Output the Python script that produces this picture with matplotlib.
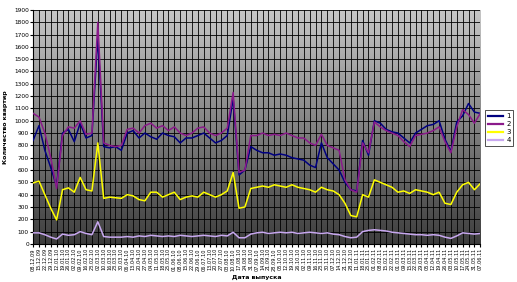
import numpy as np
import matplotlib
matplotlib.use("Agg")
import matplotlib.pyplot as plt

# ------------------------------------------
# Daten
# ------------------------------------------
daten = ["08.12.09", "15.12.09", "22.12.09", "29.12.09", "12.01.10", "19.01.10", "26.01.10",
         "02.02.10", "09.02.10", "16.02.10", "23.02.10", "02.03.10", "10.03.10", "16.03.10",
         "23.03.10", "30.03.10", "06.04.10", "13.04.10", "20.04.10", "27.04.10", "04.05.10",
         "11.05.10", "18.05.10", "25.05.10", "01.06.10", "08.06.10", "15.06.10", "22.06.10",
         "29.06.10", "06.07.10", "13.07.10", "20.07.10", "27.07.10", "03.08.10", "10.08.10",
         "17.08.10", "24.08.10", "31.08.10", "07.09.10", "14.09.10", "21.09.10", "28.09.10",
         "05.10.10", "12.10.10", "19.10.10", "26.10.10", "02.11.10", "09.11.10", "16.11.10",
         "23.11.10", "30.11.10", "07.12.10", "14.12.10", "21.12.10", "28.12.10", "11.01.11",
         "18.01.11", "25.01.11", "01.02.11", "08.02.11", "15.02.11", "22.02.11", "01.03.11",
         "09.03.11", "15.03.11", "22.03.11", "29.03.11", "05.04.11", "12.04.11", "19.04.11",
         "26.04.11", "03.05.11", "10.05.11", "17.05.11", "24.05.11", "31.05.11", "07.06.11"]

serie_1 = [840, 960, 760, 620, 470, 900, 930, 830, 980, 860, 880, 1680, 790, 780, 790, 760,
           900, 920, 860, 900, 870, 850, 900, 880, 870, 820, 860, 860, 880, 900, 860, 820,
           840, 880, 1180, 560, 600, 790, 760, 740, 740, 720, 730, 720, 700, 690, 680, 640,
           620, 820, 700, 650, 600, 500, 440, 430, 840, 720, 1000, 980, 930, 910, 900, 860,
           820, 900, 930, 960, 970, 1000, 850, 750, 990, 1040, 1140, 1070, 1060]

serie_2 = [1060, 1030, 900, 700, 450, 880, 950, 940, 1000, 890, 900, 1800, 820, 800, 790, 800,
           930, 940, 900, 960, 980, 940, 960, 920, 950, 900, 880, 900, 940, 950, 900, 880,
           900, 940, 1230, 580, 600, 880, 880, 900, 880, 890, 880, 900, 880, 860, 860, 820,
           800, 890, 800, 780, 760, 520, 440, 420, 820, 740, 990, 950, 920, 900, 880, 830,
           790, 880, 890, 900, 920, 950, 830, 740, 950, 1090, 1050, 980, 1060]

serie_3 = [495, 510, 400, 290, 195, 440, 455, 420, 540, 440, 430, 820, 370, 380, 375, 370,
           400, 390, 360, 350, 420, 420, 380, 400, 420, 360, 380, 390, 380, 420, 400, 380,
           400, 430, 580, 290, 300, 450, 460, 470, 460, 480, 470, 460, 480, 460, 450, 440,
           420, 460, 440, 430, 400, 330, 230, 220, 400, 380, 520, 500, 480, 460, 420, 430,
           410, 440, 430, 420, 400, 420, 330, 320, 420, 480, 500, 440, 490]

serie_4 = [90, 90, 75, 55, 40, 80, 70, 75, 100, 85, 75, 180, 60, 55, 55, 55,
           60, 55, 65, 60, 70, 65, 60, 65, 60, 70, 65, 60, 65, 70, 65, 60,
           70, 65, 95, 50, 50, 80, 90, 95, 85, 90, 95, 90, 95, 85, 90, 95,
           90, 85, 90, 80, 75, 60, 50, 55, 100, 110, 115, 110, 105, 95, 90, 85,
           80, 75, 75, 70, 75, 70, 55, 45, 65, 90, 85, 80, 85]

namen = ["1", "2", "3", "4"]
farben = ["#000080", "#8b1a8b", "#ffff00", "#c8a8f0"]

# ------------------------------------------
# Diagramm
# ------------------------------------------
fig = plt.figure(figsize=(5.17, 2.82), dpi=100)
ax = fig.add_axes([0.064, 0.135, 0.865, 0.83])

x = np.arange(len(daten))

# Hintergrund: Verlauf hellgrau (oben) -> dunkelgrau (unten)
verlauf = np.linspace(0.78, 0.24, 256).reshape(-1, 1)
ax.imshow(verlauf, cmap="gray", vmin=0, vmax=1, aspect="auto",
          extent=[0, len(daten) - 1, 0, 1900], zorder=0)

for serie, name, farbe in zip([serie_1, serie_2, serie_3, serie_4], namen, farben):
    ax.plot(x, serie, color=farbe, linewidth=1.1, label=name, zorder=3)

ax.set_xlim(0, len(daten) - 1)
ax.set_ylim(0, 1900)
ax.set_yticks(np.arange(0, 2000, 100))
ax.set_xticks(x)
ax.set_xticklabels(daten, rotation=90, fontsize=3.6)
ax.tick_params(axis="y", labelsize=4.2, length=2, pad=1)
ax.tick_params(axis="x", length=2, pad=1)

ax.grid(True, color="black", linewidth=0.6, zorder=1)
ax.set_axisbelow(False)
for s in ["top", "right"]:
    ax.spines[s].set_visible(False)

ax.set_ylabel("Количество квартир", fontsize=4.5, fontweight="bold", labelpad=4)
ax.set_xlabel("Дата выпуска", fontsize=4.5, fontweight="bold", labelpad=3)

leg = fig.legend(loc="center", bbox_to_anchor=(0.966, 0.545), fontsize=5,
                 frameon=True, fancybox=False, edgecolor="black", handlelength=2.2,
                 handletextpad=0.4, borderpad=0.4, labelspacing=0.3)
leg.get_frame().set_linewidth(0.6)
for line in leg.get_lines():
    line.set_linewidth(1.6)

fig.savefig("out.png", dpi=100, facecolor="white")
